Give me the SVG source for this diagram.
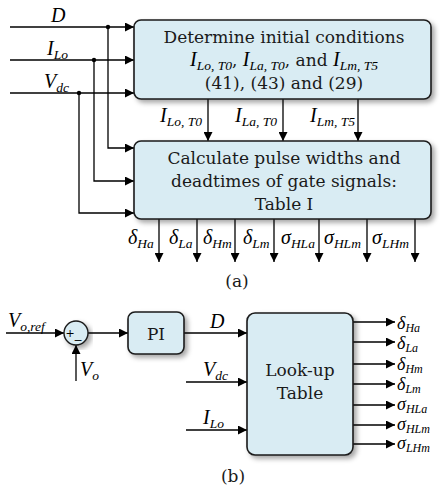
<svg xmlns="http://www.w3.org/2000/svg" width="440" height="491" viewBox="0 0 440 491">
<style>
.box{fill:#d9ecf3;stroke:#1a1a1a;stroke-width:1.6}
.ln{fill:none;stroke:#000;stroke-width:1.3}
.t{font-family:"DejaVu Serif",serif;font-size:17px;fill:#1a1a1a}
.m{font-family:"Liberation Serif",serif;font-style:italic;font-size:20px;fill:#000}
.s{font-size:13.5px}
.o{font-family:"Liberation Serif",serif;font-style:italic;font-size:18px;fill:#000}
.os{font-size:12px}
</style>
<defs>
<marker id="ah" viewBox="0 0 10 10" refX="10" refY="5" markerWidth="9" markerHeight="9" markerUnits="userSpaceOnUse" orient="auto"><path d="M0,0 L10,5 L0,10 z" fill="#000"/></marker>
<filter id="sh" x="-10%" y="-10%" width="130%" height="130%"><feDropShadow dx="3" dy="3" stdDeviation="2.5" flood-color="#000" flood-opacity="0.35"/></filter>
</defs>

<g id="connectors">
<path class="ln" d="M10,27 H134" marker-end="url(#ah)"/>
<path class="ln" d="M10,60 H134" marker-end="url(#ah)"/>
<path class="ln" d="M10,93 H134" marker-end="url(#ah)"/>
<path class="ln" d="M108,27 V148 H134" marker-end="url(#ah)"/>
<path class="ln" d="M94,60 V181 H134" marker-end="url(#ah)"/>
<path class="ln" d="M79,93 V213 H134" marker-end="url(#ah)"/>
<circle cx="108" cy="27" r="2.2"/>
<circle cx="94" cy="60" r="2.2"/>
<circle cx="79" cy="93" r="2.2"/>
<path class="ln" d="M208,99 V141" marker-end="url(#ah)"/>
<path class="ln" d="M283,99 V141" marker-end="url(#ah)"/>
<path class="ln" d="M358,99 V141" marker-end="url(#ah)"/>
<path class="ln" d="M159,219 V262" marker-end="url(#ah)"/>
<path class="ln" d="M197,219 V262" marker-end="url(#ah)"/>
<path class="ln" d="M235,219 V262" marker-end="url(#ah)"/>
<path class="ln" d="M274,219 V262" marker-end="url(#ah)"/>
<path class="ln" d="M319,219 V262" marker-end="url(#ah)"/>
<path class="ln" d="M367,219 V262" marker-end="url(#ah)"/>
<path class="ln" d="M415,219 V262" marker-end="url(#ah)"/>

<path class="ln" d="M6,333 H64" marker-end="url(#ah)"/>
<path class="ln" d="M76,381 V345" marker-end="url(#ah)"/>
<path class="ln" d="M88,333 H128" marker-end="url(#ah)"/>
<path class="ln" d="M184,333 H247" marker-end="url(#ah)"/>
<path class="ln" d="M186,382 H247" marker-end="url(#ah)"/>
<path class="ln" d="M186,430 H247" marker-end="url(#ah)"/>
<path class="ln" d="M353,322 H395" marker-end="url(#ah)"/>
<path class="ln" d="M353,342 H395" marker-end="url(#ah)"/>
<path class="ln" d="M353,364 H395" marker-end="url(#ah)"/>
<path class="ln" d="M353,384 H395" marker-end="url(#ah)"/>
<path class="ln" d="M353,405 H395" marker-end="url(#ah)"/>
<path class="ln" d="M353,425 H395" marker-end="url(#ah)"/>
<path class="ln" d="M353,444 H395" marker-end="url(#ah)"/>
</g>

<g id="labels-a">
<text class="m" x="51" y="22">D</text>
<text class="m" x="47" y="55">I<tspan class="s" dy="4">Lo</tspan></text>
<text class="m" x="44" y="88">V<tspan class="s" dy="4">dc</tspan></text>
<text class="m" x="160" y="122">I<tspan class="s" dy="4">Lo, T0</tspan></text>
<text class="m" x="235" y="122">I<tspan class="s" dy="4">La, T0</tspan></text>
<text class="m" x="310" y="122">I<tspan class="s" dy="4">Lm, T5</tspan></text>
<text class="m" x="128" y="244">δ<tspan class="s" dy="4">Ha</tspan></text>
<text class="m" x="169" y="244">δ<tspan class="s" dy="4">La</tspan></text>
<text class="m" x="203" y="244">δ<tspan class="s" dy="4">Hm</tspan></text>
<text class="m" x="243" y="244">δ<tspan class="s" dy="4">Lm</tspan></text>
<text class="m" x="281" y="244">σ<tspan class="s" dy="4">HLa</tspan></text>
<text class="m" x="324" y="244">σ<tspan class="s" dy="4">HLm</tspan></text>
<text class="m" x="372" y="244">σ<tspan class="s" dy="4">LHm</tspan></text>
<text class="t" x="237" y="287" text-anchor="middle">(a)</text>
</g>

<g id="box-initial">
<rect class="box" x="134" y="20" width="297" height="79" rx="7" filter="url(#sh)"/>
<text class="t" x="284" y="43" text-anchor="middle">Determine initial conditions</text>
<text class="t" x="284" y="66" text-anchor="middle"><tspan class="m">I</tspan><tspan class="m s" dy="4">Lo, T0</tspan><tspan dy="-4">, </tspan><tspan class="m">I</tspan><tspan class="m s" dy="4">La, T0</tspan><tspan dy="-4">, and </tspan><tspan class="m">I</tspan><tspan class="m s" dy="4">Lm, T5</tspan></text>
<text class="t" x="284" y="89" text-anchor="middle">(41), (43) and (29)</text>
</g>

<g id="box-calc">
<rect class="box" x="134" y="141" width="297" height="78" rx="7" filter="url(#sh)"/>
<text class="t" x="284" y="164" text-anchor="middle">Calculate pulse widths and</text>
<text class="t" x="284" y="187" text-anchor="middle">deadtimes of gate signals:</text>
<text class="t" x="284" y="210" text-anchor="middle">Table I</text>
</g>

<g id="sum">
<circle cx="76" cy="333" r="12" fill="#d9ecf3" stroke="#1a1a1a" stroke-width="1.4" filter="url(#sh)"/>
<text x="70" y="337" font-family="DejaVu Serif,serif" font-size="11" text-anchor="middle">+</text>
<text x="78" y="344" font-family="DejaVu Serif,serif" font-size="11" text-anchor="middle">−</text>
</g>

<g id="pi">
<rect class="box" x="128" y="312" width="56" height="42" rx="7" filter="url(#sh)"/>
<text class="t" x="156" y="340" text-anchor="middle" font-size="19">PI</text>
</g>

<g id="lut">
<rect class="box" x="247" y="313" width="106" height="142" rx="8" filter="url(#sh)"/>
<text class="t" x="300" y="376" text-anchor="middle">Look-up</text>
<text class="t" x="300" y="399" text-anchor="middle">Table</text>
</g>

<g id="labels-b">
<text class="m" x="8" y="327">V<tspan class="s" dy="4">o,ref</tspan></text>
<text class="m" x="80" y="376">V<tspan class="s" dy="4">o</tspan></text>
<text class="m" x="210" y="328">D</text>
<text class="m" x="203" y="376">V<tspan class="s" dy="4">dc</tspan></text>
<text class="m" x="203" y="424">I<tspan class="s" dy="4">Lo</tspan></text>
<text class="o" x="397" y="329">δ<tspan class="os" dy="3">Ha</tspan></text>
<text class="o" x="397" y="349">δ<tspan class="os" dy="3">La</tspan></text>
<text class="o" x="397" y="370">δ<tspan class="os" dy="3">Hm</tspan></text>
<text class="o" x="397" y="390">δ<tspan class="os" dy="3">Lm</tspan></text>
<text class="o" x="397" y="410">σ<tspan class="os" dy="3">HLa</tspan></text>
<text class="o" x="397" y="430">σ<tspan class="os" dy="3">HLm</tspan></text>
<text class="o" x="397" y="449">σ<tspan class="os" dy="3">LHm</tspan></text>
<text class="t" x="233" y="482" text-anchor="middle">(b)</text>
</g>
</svg>
